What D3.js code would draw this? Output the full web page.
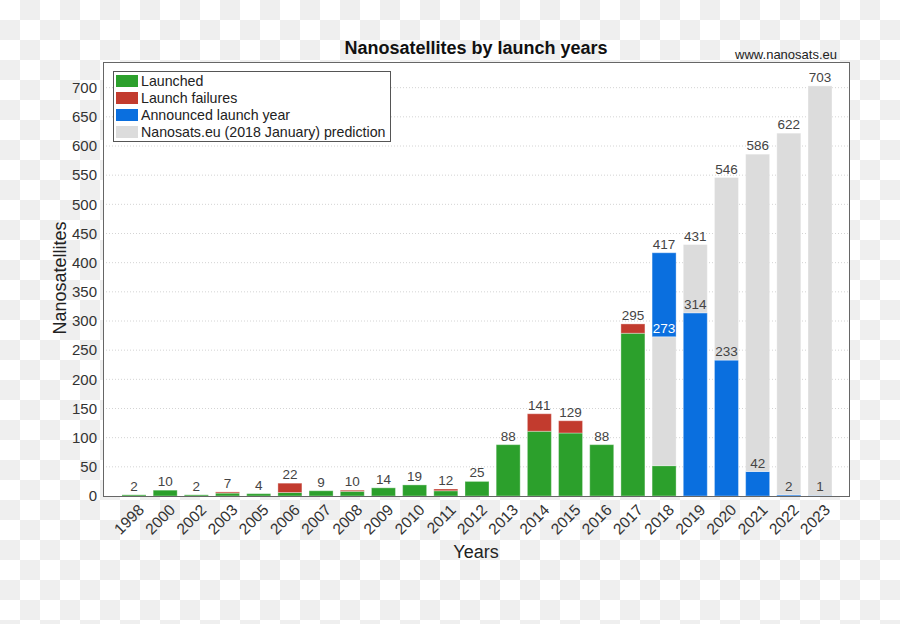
<!DOCTYPE html>
<html><head><meta charset="utf-8">
<script src="https://cdn.jsdelivr.net/npm/d3@7"></script>
<style>body{margin:0;padding:0;} svg{display:block;font-family:"Liberation Sans",Arial,sans-serif;}</style>
</head><body>
<svg id="chart" width="900" height="624"></svg>
<script>
const years = ["1998","2000","2002","2003","2005","2006","2007","2008","2009","2010","2011","2012","2013","2014","2015","2016","2017","2018","2019","2020","2021","2022","2023"];
const launched     = [2,10,2,5,4,6,9,8,14,19,9,25,88,111,108,88,279,52,0,0,0,0,0];
const failures     = [0,0,0,2,0,16,0,2,0,0,3,0,0,30,21,0,16,0,0,0,0,0,0];
const predictionLow= [0,0,0,0,0,0,0,0,0,0,0,0,0,0,0,0,0,221,0,0,0,0,0];
const announced    = [0,0,0,0,0,0,0,0,0,0,0,0,0,0,0,0,0,144,314,233,42,2,1];
const predictionHigh=[0,0,0,0,0,0,0,0,0,0,0,0,0,0,0,0,0,0,117,313,544,620,702];
const subLabels    = [null,null,null,null,null,null,null,null,null,null,null,null,null,null,null,null,null,273,314,233,42,2,1];
const yTicks = [0,50,100,150,200,250,300,350,400,450,500,550,600,650,700];
const legendLabels = ["Launched","Launch failures","Announced launch year","Nanosats.eu (2018 January) prediction"];

const colors = {launched:"#2ca02c", failures:"#c23b2e", predictionLow:"#dcdcdc", announced:"#0a6fdf", predictionHigh:"#dcdcdc"};
const keys = ["launched","failures","predictionLow","announced","predictionHigh"];
const rows = years.map((y,i)=>({year:y, launched:launched[i], failures:failures[i], predictionLow:predictionLow[i], announced:announced[i], predictionHigh:predictionHigh[i]}));

const svg = d3.select("#chart");
const W=900,H=624;
const defs = svg.append("defs");
const pat = defs.append("pattern").attr("id","chk").attr("width",40).attr("height",40).attr("patternUnits","userSpaceOnUse");
pat.append("rect").attr("width",40).attr("height",40).attr("fill","#ffffff");
pat.append("rect").attr("x",20).attr("y",0).attr("width",20).attr("height",20).attr("fill","#efefef");
pat.append("rect").attr("x",0).attr("y",20).attr("width",20).attr("height",20).attr("fill","#efefef");
svg.append("rect").attr("width",W).attr("height",H).attr("fill","url(#chk)");

const L=103,R=850,T=62,B=496;
svg.append("rect").attr("x",L).attr("y",T).attr("width",R-L).attr("height",B-T).attr("fill","#fff");

const x = d3.scaleBand().domain(years).range([118.4,835.6]).paddingInner(0.23).paddingOuter(0.115);
const y = d3.scaleLinear().domain([0,744]).range([B,T]);

svg.append("g").selectAll("line").data(yTicks.filter(d=>d>0)).join("line")
  .attr("x1",L).attr("x2",R).attr("y1",d=>y(d)).attr("y2",d=>y(d))
  .attr("stroke","#d4d4d4").attr("stroke-dasharray","1,2").attr("stroke-width",1);

const stack = d3.stack().keys(keys)(rows);
svg.append("g").selectAll("g").data(stack).join("g")
  .attr("fill",d=>colors[d.key])
  .selectAll("rect").data(d=>d.filter(s=>s[1]-s[0]>0)).join("rect")
  .attr("x",d=>x(d.data.year)).attr("width",x.bandwidth())
  .attr("y",d=>y(d[1])).attr("height",d=>y(d[0])-y(d[1]))
  .attr("stroke","rgba(255,255,255,0.35)").attr("stroke-width",1);

const totals = rows.map(r=>keys.reduce((s,k)=>s+r[k],0));
svg.append("g").selectAll("text").data(years).join("text")
  .attr("x",d=>x(d)+x.bandwidth()/2).attr("y",(d,i)=>y(totals[i])-4)
  .attr("text-anchor","middle").attr("font-size",13.5).attr("fill","#444")
  .text((d,i)=>totals[i]);
svg.append("g").selectAll("text").data(years.map((d,i)=>({year:d,v:subLabels[i],i})).filter(d=>d.v!==null)).join("text")
  .attr("x",d=>x(d.year)+x.bandwidth()/2).attr("y",d=>y(d.v)-4)
  .attr("text-anchor","middle").attr("font-size",13.5)
  .attr("fill",d=>predictionLow[d.i]>0?"#ffffff":"#444")
  .text(d=>d.v);

svg.append("rect").attr("x",L+0.5).attr("y",T+0.5).attr("width",R-L-1).attr("height",B-T).attr("fill","none").attr("stroke","#666").attr("stroke-width",1);

svg.append("g").selectAll("text").data(yTicks).join("text")
  .attr("x",97).attr("y",d=>y(d)).attr("dy","0.35em").attr("text-anchor","end")
  .attr("font-size",15).attr("fill","#333").text(d=>d);
svg.append("g").selectAll("text").data(years).join("text")
  .attr("transform",d=>`translate(${x(d)+x.bandwidth()/2+11},${511}) rotate(-45)`)
  .attr("text-anchor","end").attr("font-size",15.5).attr("fill","#333").text(d=>d);

const lg = svg.append("g");
lg.append("rect").attr("x",113.5).attr("y",71.5).attr("width",277).attr("height",70).attr("fill","#fff").attr("stroke","#555");
const lcol = ["#2ca02c","#c23b2e","#0a6fdf","#dcdcdc"];
legendLabels.forEach((t,i)=>{
  lg.append("rect").attr("x",116).attr("y",75+i*17).attr("width",22).attr("height",12).attr("fill",lcol[i]);
  lg.append("text").attr("x",141).attr("y",86+i*17).attr("font-size",14.2).attr("fill","#222").text(t);
});

svg.append("text").attr("x",476).attr("y",54).attr("text-anchor","middle").attr("font-size",18).attr("font-weight","bold").attr("fill","#111").text("Nanosatellites by launch years");
svg.append("text").attr("x",837).attr("y",59).attr("text-anchor","end").attr("font-size",13).attr("fill","#222").text("www.nanosats.eu");
svg.append("text").attr("transform","translate(66,278) rotate(-90)").attr("text-anchor","middle").attr("font-size",18).attr("fill","#222").text("Nanosatellites");
svg.append("text").attr("x",476).attr("y",558).attr("text-anchor","middle").attr("font-size",18).attr("fill","#222").text("Years");
</script>
</body></html>
